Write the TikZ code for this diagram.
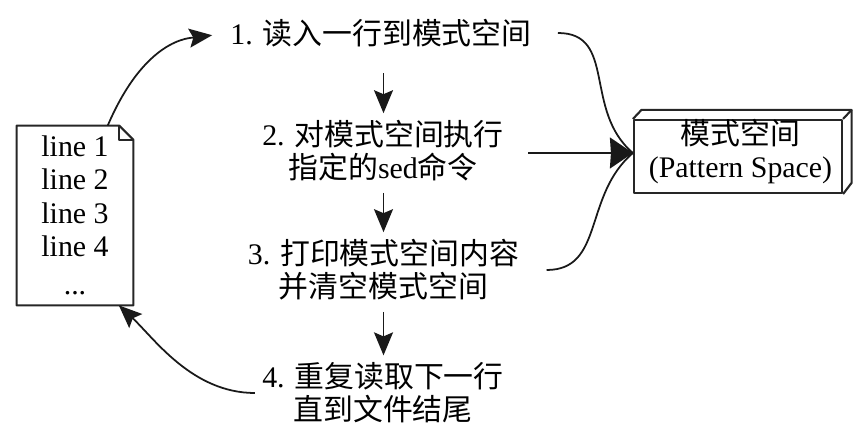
\documentclass[tikz,border=0pt]{standalone}
\usepackage{fontspec}
\setmainfont{Liberation Serif}
\newfontfamily\cjk{Noto Sans CJK SC}
\usetikzlibrary{arrows.meta, positioning, calc}

\tikzset{
  steptext/.style={font=\fontsize{17}{18.8}\selectfont, align=center, inner sep=0pt},
  flow/.style={-{Stealth[length=0.46cm, width=0.38cm, inset=0.08cm]}, line width=1pt, black!90},
  merge/.style={-{Stealth[length=0.46cm, width=0.62cm, inset=0.02cm]}, line width=1pt, black!90},
  feed/.style={line width=1pt, black!90},
  outline/.style={line width=1.2pt, black!85, line join=round}
}

\begin{document}
\begin{tikzpicture}
\useasboundingbox (0,0) rectangle (17.2,8.66);

% input file
\node[steptext, minimum width=2.32cm, minimum height=3.58cm] (file) at (1.5,4.35)
  {line 1\\line 2\\line 3\\line 4\\[3pt]...};
\coordinate (foldtop) at ($(file.north east)+(-0.28,0)$);
\coordinate (foldside) at ($(file.north east)+(0,-0.28)$);
\draw[outline] (file.south west) -- (file.north west) -- (foldtop) -- (foldside)
  -- (file.south east) -- cycle;
\draw[outline] (foldtop) -- (foldtop |- foldside) -- (foldside);

% the four steps
\node[steptext] (step1) at (7.62,8.0) {1. {\cjk 读入一行到模式空间}};
\node[steptext] (step2) at (7.66,5.64) {2. {\cjk 对模式空间执行}\\{\cjk 指定的}sed{\cjk 命令}};
\node[steptext] (step3) at (7.67,3.26) {3. {\cjk 打印模式空间内容}\\{\cjk 并清空模式空间}};
\node[steptext] (step4) at (7.66,0.8) {4. {\cjk 重复读取下一行}\\{\cjk 直到文件结尾}};

% pattern space box
\node[steptext, minimum width=4.16cm, minimum height=1.46cm, draw, outline] (pattern) at (14.76,5.53) {};
\node[steptext] (patternlabel) at (14.81,5.62) {{\cjk 模式空间}\\(Pattern Space)};
\coordinate (patternin) at ($(pattern.west)+(0,0.07)$);
\coordinate (backne) at ($(pattern.north east)+(0.17,0.18)$);
\draw[outline] (pattern.north west) -- ++(0.17,0.18) -- (backne) -- (pattern.north east);
\draw[outline] (backne) -- ++(0,-1.46) -- (pattern.south east);

% steps run top to bottom
\draw[flow, shorten <=0.52cm, shorten >=0.14cm] (step1.south -| step3) -- (step3 |- step2.north);
\draw[flow, shorten <=0.22cm, shorten >=0.14cm] (step2.south -| step3) -- (step3.north);
\draw[flow, shorten <=0.22cm, shorten >=0.14cm] (step3.south) -- (step3 |- step4.north);

% file in and out
\draw[flow, shorten >=0.36cm] (file.70) .. controls +(0.75,1.75) and +(-0.8,-0.1) .. (step1.west);
\draw[flow, shorten <=0.14cm] (step4.west) .. controls +(-1.4,0) and +(0.7,-0.65) .. (file.-64);

% into the pattern space
\draw[feed, shorten <=0.52cm] (step1.east) .. controls +(1.7,0) and +(-1,0.85) .. (patternin);
\draw[feed, shorten <=0.54cm] (step3.east) .. controls +(1.7,0) and +(-1,-0.85) .. (patternin);
\draw[merge, shorten <=0.48cm] (step2.east |- patternin) -- (patternin);
\end{tikzpicture}
\end{document}
